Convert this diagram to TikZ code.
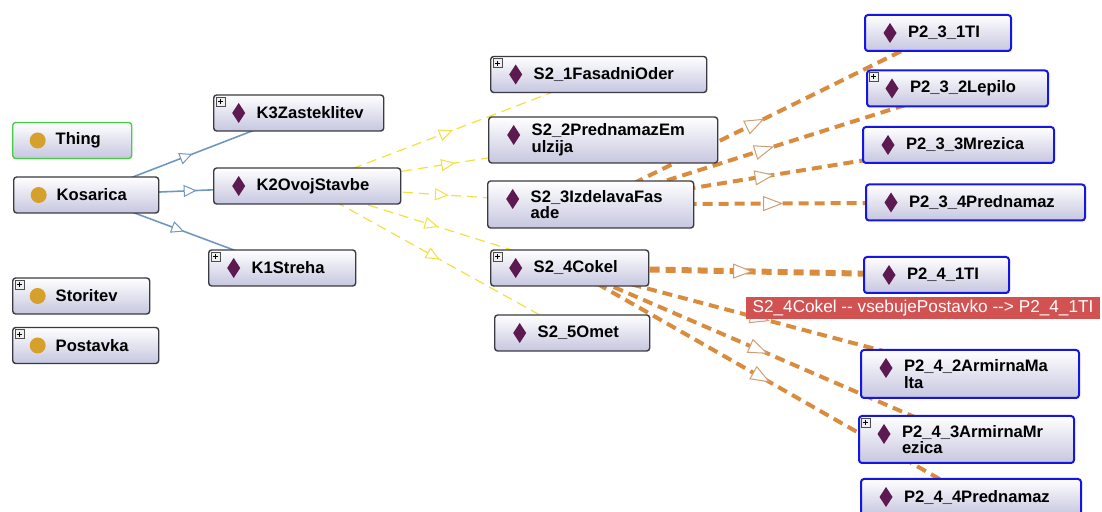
\documentclass[tikz,border=0pt]{standalone}
\usepackage{fontspec}
\newfontfamily\lbl{Liberation Sans}
\usetikzlibrary{arrows.meta,decorations.markings}
\definecolor{boxlo}{RGB}{198,198,224}
\definecolor{rim}{RGB}{58,58,66}
\definecolor{thingrim}{RGB}{70,205,70}
\definecolor{selrim}{RGB}{22,22,226}
\definecolor{gold}{RGB}{214,160,44}
\definecolor{plum}{RGB}{92,26,80}
\definecolor{isac}{RGB}{112,152,190}
\definecolor{subc}{RGB}{242,224,62}
\definecolor{hasc}{RGB}{218,140,62}
\definecolor{hastip}{RGB}{206,158,118}
\definecolor{tipred}{RGB}{210,82,82}
\pgfdeclarelayer{edges}
\pgfsetlayers{edges,main}

\begin{document}
\begin{tikzpicture}[x=0.5pt,y=-0.5pt,
  ent/.style={anchor=west,draw=rim,line width=0.7pt,rounded corners=1.5pt,
    top color=white,bottom color=boxlo,inner xsep=0pt,inner ysep=2pt,
    text width=#1*0.5pt,minimum height=18pt,align=left,
    font=\lbl\bfseries\fontsize{8.3pt}{8.4pt}\selectfont,
    execute at begin node={\leftskip=21.5pt}},
  cls/.style={ent=#1,path picture={\fill[gold] ([shift={(25,18)}]path picture bounding box.north west) circle[radius=4pt];}},
  ind/.style={ent=#1,path picture={\fill[plum,sharp corners] ([shift={(25,8)}]path picture bounding box.north west) -- ++(6.5,10) -- ++(-6.5,10) -- ++(-6.5,-10) -- cycle;}},
  sel/.style={draw=selrim,line width=1pt},
  plusmark/.pic={\draw[fill=gray!12,draw=gray!60!black,line width=0.4pt] (3,3) rectangle (12,12);
    \draw[line width=0.5pt] (5,7.5) -- (10,7.5) (7.5,5) -- (7.5,10);},
  mid/.style={postaction={decorate},decoration={markings,
    mark=at position 0.5 with {\arrow{Triangle[fill=white,line width=0.5pt,#1]}}}},
  isa/.style={draw=isac,line width=0.8pt,mid={color=isac,length=6.5pt,width=6pt}},
  sub/.style={draw=subc,line width=0.6pt,dash pattern=on 5pt off 3pt,mid={color=subc,length=7pt,width=6pt}},
  has/.style={draw=hasc,line width=2pt,dash pattern=on 5pt off 3pt,mid={color=hastip,length=10pt,width=7.5pt}},
  hint/.style={fill=tipred,text=white,inner sep=0pt,minimum width=177pt,minimum height=11pt,
    font=\lbl\fontsize{8.6pt}{9pt}\selectfont}]
\useasboundingbox (0,0) rectangle (1102,512);

\node[cls=119,draw=thingrim] (thing) at (12,140.5) {Thing};
\node[cls=145] (kos) at (13,195) {Kosarica};
\node[cls=137] (stor) at (12,296) {Storitev};
\node[cls=146] (post) at (12,345.5) {Postavka};

\node[ind=170] (k3) at (213,113) {K3Zasteklitev};
\node[ind=187] (k2) at (213,186) {K2OvojStavbe};
\node[ind=147] (k1) at (208,268) {K1Streha};

\node[ind=216] (s21) at (490,74.5) {S2\_1FasadniOder};
\node[ind=229,minimum height=23pt] (s22) at (488,140) {S2\_2PrednamazEm\\ulzija};
\node[ind=206,minimum height=23.5pt] (s23) at (487,204.5) {S2\_3IzdelavaFas\\ade};
\node[ind=158] (s24) at (490,268) {S2\_4Cokel};
\node[ind=155] (s25) at (494,333) {S2\_5Omet};

\node[ind=146,sel] (p231) at (864,33) {P2\_3\_1TI};
\node[ind=181,sel] (p232) at (866,88.5) {P2\_3\_2Lepilo};
\node[ind=191,sel] (p233) at (862,145) {P2\_3\_3Mrezica};
\node[ind=219,sel] (p234) at (865,202.5) {P2\_3\_4Prednamaz};
\node[ind=145,sel] (p241) at (863,275) {P2\_4\_1TI};
\node[ind=218,sel,minimum height=24pt] (p242) at (860,374) {P2\_4\_2ArmirnaMa\\lta};
\node[ind=215,sel,minimum height=23.5pt] (p243) at (858,439.5) {P2\_4\_3ArmirnaMr\\ezica};
\node[ind=220,sel] (p244) at (860,497) {P2\_4\_4Prednamaz};

\pic at (stor.north west) {plusmark};
\pic at (post.north west) {plusmark};
\pic at (k3.north west) {plusmark};
\pic at (k1.north west) {plusmark};
\pic at (s21.north west) {plusmark};
\pic at (s24.north west) {plusmark};
\pic at (p232.north west) {plusmark};
\pic at (p243.north west) {plusmark};

\begin{pgfonlayer}{edges}
\draw[isa] (kos.center) -- (k3.center);
\draw[isa] (kos.center) -- (k2.center);
\draw[isa] (kos.center) -- (k1.center);
\foreach \s in {s21,s22,s23,s24,s25}
  \draw[sub] (k2.center) -- (\s.center);
\foreach \p in {p231,p232,p233,p234}
  \draw[has] (s23.center) -- (\p.center);
\draw[has,line width=3pt] (s24.center) -- (p241.center);
\foreach \p in {p242,p243,p244}
  \draw[has] (s24.center) -- (\p.center);
\end{pgfonlayer}

\node[hint] (tip) at (923,308) {S2\_4Cokel {-}{-} vsebujePostavko {-}{-}> P2\_4\_1TI};
\end{tikzpicture}
\end{document}
